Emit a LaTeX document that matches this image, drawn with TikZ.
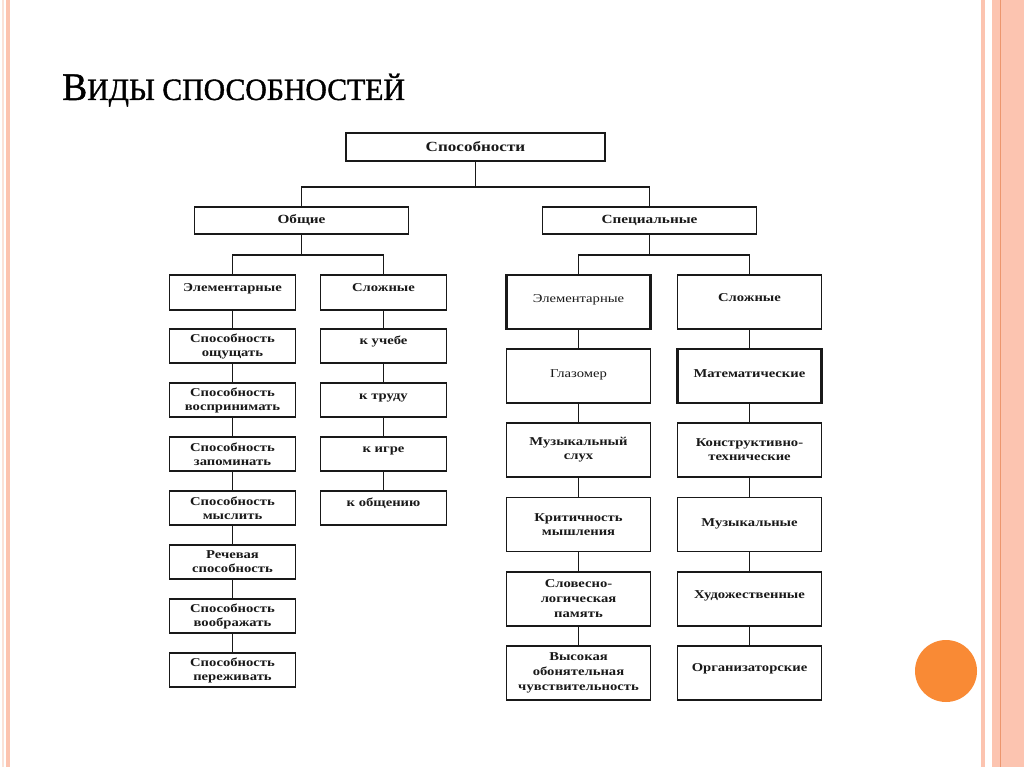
\documentclass[tikz,border=0pt]{standalone}
\usepackage{fontspec}
\setmainfont{Liberation Serif}
\newfontfamily\boxfont[FakeStretch=1.22]{Liberation Serif}
\newfontfamily\titlefont[FakeStretch=0.96,FakeBold=1.2]{Liberation Serif}
\newcommand\up[2]{\raisebox{#1}[0pt][0pt]{#2}}
\definecolor{salmon}{RGB}{252,196,176}
\definecolor{palesalmon}{RGB}{250,226,216}
\definecolor{darksalmon}{RGB}{236,150,110}
\definecolor{dotorange}{RGB}{249,138,53}
\definecolor{ink}{RGB}{25,25,25}
\begin{document}
\begin{tikzpicture}[x=1pt,y=-1pt,
  box/.style={draw=ink, line width=1.5pt, fill=white, text=ink, align=center,
    inner sep=1pt, font=\boxfont\bfseries\fontsize{12}{14}\selectfont},
  thickbox/.style={line width=2.3pt},
  lightbox/.style={font=\boxfont\fontsize{12}{14}\selectfont},
  lcol/.style={box, minimum width=126pt, minimum height=34pt},
  rcol/.style={box, minimum width=144pt, minimum height=54pt},
  conn/.style={draw=ink, line width=1.5pt}
]
\useasboundingbox (0,0) rectangle (1024,767);
\fill[white] (0,0) rectangle (1024,767);
% page border decoration
\fill[palesalmon] (2,0) rectangle (4,767);
\fill[salmon] (6,0) rectangle (10,767);
\fill[salmon] (981,0) rectangle (985,767);
\fill[salmon] (992,0) rectangle (1024,767);
\fill[darksalmon] (999.5,0) rectangle (1001,767);
\fill[dotorange] (946,671) circle (31);
% title
\node[anchor=base west, inner sep=0pt, text=black] (title) at (62,100)
  {\titlefont\fontsize{39}{40}\selectfont В\fontsize{31}{32}\selectfont ИДЫ СПОСОБНОСТЕЙ};
% level 0, 1
\node[box, minimum width=259pt, minimum height=28pt, font=\boxfont\bfseries\fontsize{14}{16}\selectfont] (root) at (475.5,147) {Способности};
\node[box, minimum width=214pt, minimum height=27pt, font=\boxfont\bfseries\fontsize{12.5}{15}\selectfont] (gen) at (301.5,220.5) {Общие};
\node[box, minimum width=214pt, minimum height=27pt, font=\boxfont\bfseries\fontsize{12.5}{15}\selectfont] (spec) at (649.5,220.5) {Специальные};
% general: elementary column
\node[lcol, minimum height=35pt] (ge0) at (232.5,292.5) {\up{1.5pt}{Элементарные}};
\node[lcol] (ge1) at (232.5,346) {Способность\\ощущать};
\node[lcol] (ge2) at (232.5,400) {Способность\\воспринимать};
\node[lcol] (ge3) at (232.5,454) {Способность\\запоминать};
\node[lcol] (ge4) at (232.5,508) {Способность\\мыслить};
\node[lcol] (ge5) at (232.5,562) {Речевая\\способность};
\node[lcol] (ge6) at (232.5,616) {Способность\\воображать};
\node[lcol] (ge7) at (232.5,670) {Способность\\переживать};
% general: complex column
\node[lcol, minimum height=35pt] (gc0) at (383.5,292.5) {\up{1.5pt}{Сложные}};
\node[lcol] (gc1) at (383.5,346) {\up{1.5pt}{к учебе}};
\node[lcol] (gc2) at (383.5,400) {\up{0.5pt}{к труду}};
\node[lcol] (gc3) at (383.5,454) {\up{1.5pt}{к игре}};
\node[lcol] (gc4) at (383.5,508) {\up{1.5pt}{к общению}};
% special: elementary column
\node[rcol, thickbox] (se0) at (578.5,302) {\up{-0.5pt}{\fontseries{m}\selectfont Элементарные}};
\node[rcol, lightbox] (se1) at (578.5,376) {\up{-1.5pt}{Глазомер}};
\node[rcol] (se2) at (578.5,450) {Музыкальный\\слух};
\node[rcol] (se3) at (578.5,524.5) {Критичность\\мышления};
\node[rcol, font=\boxfont\bfseries\fontsize{12}{15}\selectfont] (se4) at (578.5,599) {Словесно-\\логическая\\память};
\node[rcol, font=\boxfont\bfseries\fontsize{12}{15}\selectfont] (se5) at (578.5,673) {Высокая\\обонятельная\\чувствительность};
% special: complex column
\node[rcol] (sc0) at (749.5,302) {\up{1pt}{Сложные}};
\node[rcol, thickbox] (sc1) at (749.5,376) {\up{-1.5pt}{Математические}};
\node[rcol] (sc2) at (749.5,450) {Конструктивно-\\технические};
\node[rcol] (sc3) at (749.5,524.5) {\up{-1.5pt}{Музыкальные}};
\node[rcol] (sc4) at (749.5,599) {\up{1pt}{Художественные}};
\node[rcol] (sc5) at (749.5,673) {\up{1.5pt}{Организаторские}};
% connectors
\coordinate (j0) at (475.5,187);
\draw[conn] (root.south) -- (j0);
\draw[conn] (gen.north) |- (j0) -| (spec.north);
\coordinate (jg) at (301.5,255);
\coordinate (js) at (649.5,255);
\draw[conn] (gen.south) -- (jg);
\draw[conn] (ge0.north) |- (jg) -| (gc0.north);
\draw[conn] (spec.south) -- (js);
\draw[conn] (se0.north) |- (js) -| (sc0.north);
\foreach \a/\b in {ge0/ge1,ge1/ge2,ge2/ge3,ge3/ge4,ge4/ge5,ge5/ge6,ge6/ge7,
                   gc0/gc1,gc1/gc2,gc2/gc3,gc3/gc4,
                   se0/se1,se1/se2,se2/se3,se3/se4,se4/se5,
                   sc0/sc1,sc1/sc2,sc2/sc3,sc3/sc4,sc4/sc5}
  \draw[conn] (\a.south) -- (\b.north);
\end{tikzpicture}
\end{document}
